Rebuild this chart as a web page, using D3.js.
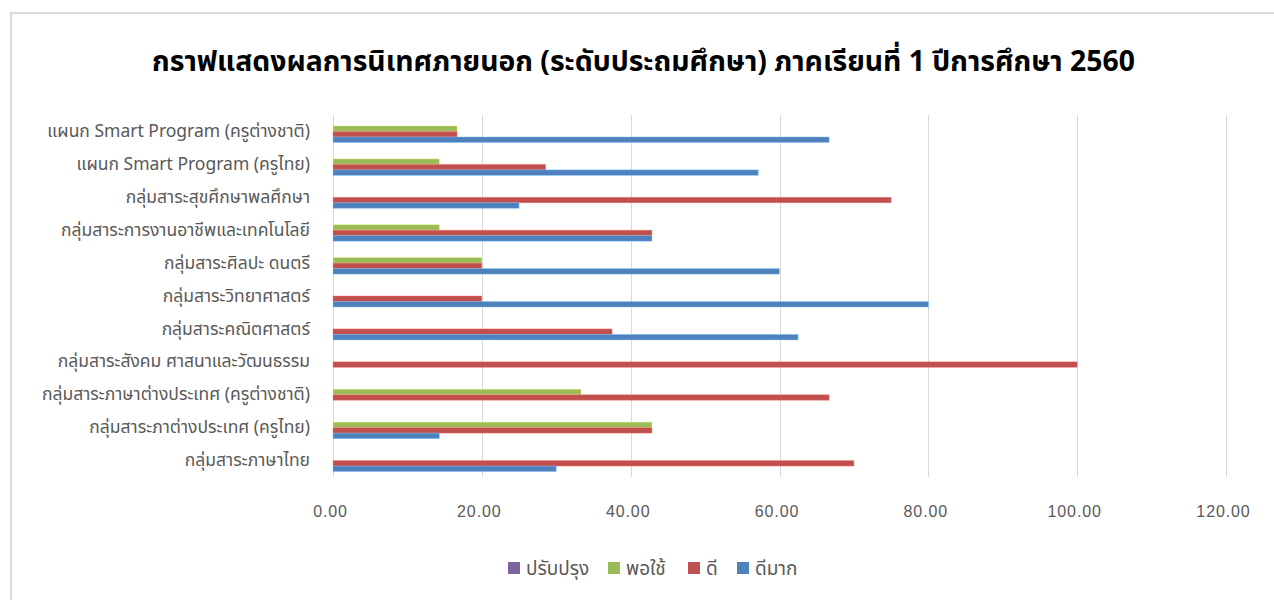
<!DOCTYPE html>
<html><head><meta charset="utf-8">
<script src="https://cdn.jsdelivr.net/npm/d3@7"></script>
<style>
html,body{margin:0;padding:0;background:#fff;}
svg text{font-family:"Leelawadee UI",Tahoma,"Noto Sans Thai","Noto Sans","DejaVu Sans",sans-serif;}
</style></head>
<body>
<svg id="chart" width="1274" height="600"></svg>
<script>
const categories = [
  "แผนก Smart Program (ครูต่างชาติ)",
  "แผนก Smart Program (ครูไทย)",
  "กลุ่มสาระสุขศึกษาพลศึกษา",
  "กลุ่มสาระการงานอาชีพและเทคโนโลยี",
  "กลุ่มสาระศิลปะ ดนตรี",
  "กลุ่มสาระวิทยาศาสตร์",
  "กลุ่มสาระคณิตศาสตร์",
  "กลุ่มสาระสังคม ศาสนาและวัฒนธรรม",
  "กลุ่มสาระภาษาต่างประเทศ (ครูต่างชาติ)",
  "กลุ่มสาระภาต่างประเทศ (ครูไทย)",
  "กลุ่มสาระภาษาไทย"
];
const seriesNames = ["ปรับปรุง", "พอใช้", "ดี", "ดีมาก"];
const seriesColors = ["#8064A2", "#9BBB59", "#C0504D", "#4F81BD"];
const improve = [0, 0, 0, 0, 0, 0, 0, 0, 0, 0, 0];
const fair    = [16.67, 14.29, 0, 14.29, 20, 0, 0, 0, 33.33, 42.86, 0];
const good    = [16.67, 28.57, 75, 42.86, 20, 20, 37.5, 100, 66.67, 42.86, 70];
const veryGood= [66.67, 57.14, 25, 42.86, 60, 80, 62.5, 0, 0, 14.29, 30];
const xTicks = [0, 20, 40, 60, 80, 100, 120];
const title = "กราฟแสดงผลการนิเทศภายนอก (ระดับประถมศึกษา) ภาคเรียนที่ 1 ปีการศึกษา 2560";

const seriesValues = [improve, fair, good, veryGood];
const svg = d3.select("#chart");

// outer chart border
svg.append("rect").attr("x", 11).attr("y", 13).attr("width", 1280).attr("height", 620)
  .attr("fill", "#fff").attr("stroke", "#d9d9d9").attr("stroke-width", 2);

const pL = 333, pR = 1226, pT = 115, pB = 477;
const x = d3.scaleLinear().domain([0, 120]).range([pL, pR]);
const y = d3.scaleBand().domain(categories).range([pT, pB]).paddingInner(0.33).paddingOuter(0.165);
const ys = d3.scaleBand().domain(seriesNames).range([0, y.bandwidth()]);

// gridlines
svg.append("g").selectAll("line").data(xTicks).join("line")
  .attr("x1", d => Math.round(x(d)) + 0.5).attr("x2", d => Math.round(x(d)) + 0.5)
  .attr("y1", pT).attr("y2", pB)
  .attr("stroke", "#d9d9d9").attr("stroke-width", 1);

// x axis labels
const xAxis = d3.axisBottom(x).tickValues(xTicks).tickFormat(d3.format(".2f")).tickSize(0).tickPadding(0);
const gx = svg.append("g").attr("transform", `translate(-3,${pB + 34})`).call(xAxis);
gx.select(".domain").remove();
gx.selectAll("text").attr("fill", "#595959").attr("font-size", 16).attr("dy", "0.35em")
  .style("letter-spacing", "0.9px")
  .style("font-family", "'Liberation Sans',Arial,sans-serif");

// y axis labels
const yAxis = d3.axisLeft(y).tickSize(0).tickPadding(0);
const gy = svg.append("g").attr("transform", `translate(310,0)`).call(yAxis);
gy.select(".domain").remove();
gy.selectAll("text").attr("fill", "#595959").attr("font-size", 17.5);

// bars
seriesNames.forEach((s, si) => {
  svg.append("g").selectAll("rect").data(categories).join("rect")
    .attr("x", x(0))
    .attr("y", (c) => y(c) + ys(s))
    .attr("width", (c, i) => Math.max(0, x(seriesValues[si][i]) - x(0)))
    .attr("height", ys.bandwidth())
    .attr("fill", seriesColors[si])
    .attr("stroke", d3.color(seriesColors[si]).brighter(1.2))
    .attr("stroke-opacity", 0.5)
    .attr("stroke-width", 0.8)
    .attr("display", (c, i) => seriesValues[si][i] > 0 ? null : "none");
});

// title (font size fitted to the reference width)
const t = svg.append("text").attr("x", 643.5).attr("y", 71).attr("text-anchor", "middle")
  .attr("font-size", 27).attr("font-weight", "bold").attr("fill", "#000").text(title);
const tw = t.node().getComputedTextLength();
t.attr("font-size", Math.min(30, 27 * 983 / tw));

// legend
const legendX = [508, 608, 688, 737];
const lg = svg.append("g").selectAll("g").data(seriesNames).join("g")
  .attr("transform", (d, i) => `translate(${legendX[i]},568)`);
lg.append("rect").attr("x", 0).attr("y", -6).attr("width", 12).attr("height", 12)
  .attr("fill", (d, i) => seriesColors[i]);
lg.append("text").attr("x", 18).attr("y", 0).attr("dy", "0.35em")
  .attr("font-size", 19).attr("fill", "#595959").text(d => d);
</script>
</body></html>
